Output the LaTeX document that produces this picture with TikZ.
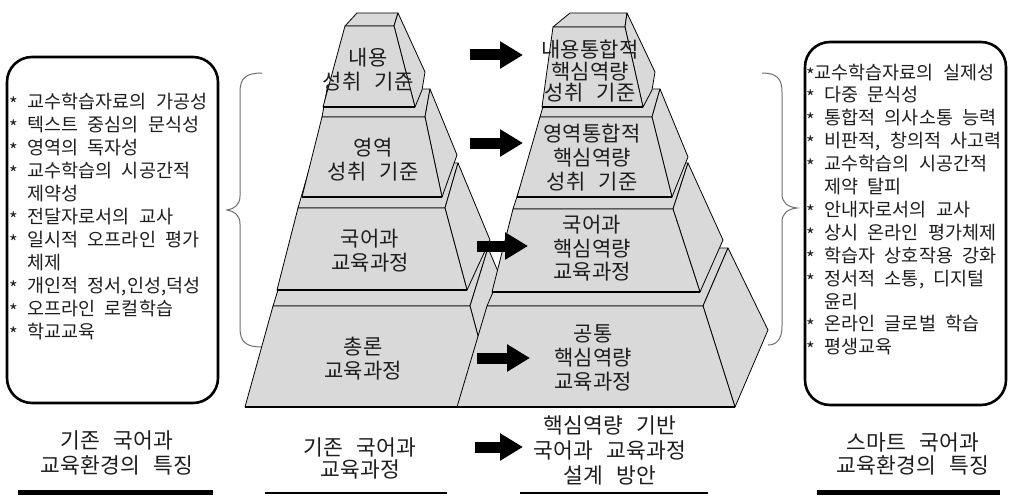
\documentclass[tikz,border=0pt]{standalone}
\usepackage{fontspec}
\newfontfamily\krbox[WordSpace=2.3]{Noto Sans CJK KR}
\newfontfamily\krpyr[LetterSpace=1,WordSpace=1.3]{Noto Sans CJK KR}
\newfontfamily\krcap[LetterSpace=1,WordSpace=2.7]{Noto Sans CJK KR}
\newcommand\mystar{\raisebox{-3pt}{*}}
\usetikzlibrary{arrows.meta}
\definecolor{face}{RGB}{217,217,217}
\definecolor{txt}{RGB}{30,30,30}
\definecolor{brc}{RGB}{110,110,110}
\begin{document}
\begin{tikzpicture}[x=1pt,y=-1pt,
  facestyle/.style={fill=face,draw=black,line width=0.8pt,line join=round},
  bottomedge/.style={draw=black,line width=1.6pt},
  blockarrow/.style={draw=black,line width=11pt,-{Triangle[length=23pt,width=26pt]}},
  boxtext/.style={font=\krbox\fontsize{18.5}{18}\selectfont,text=txt,anchor=base west,inner sep=0pt},
  pyrtext/.style={font=\krpyr\fontsize{21}{24}\selectfont,text=txt,align=center,inner sep=0pt},
  captext/.style={font=\krcap\fontsize{21.5}{25}\selectfont,text=txt,align=center,inner sep=0pt},
  roundbox/.style={draw=black,line width=2.6pt,rounded corners=25pt},
  bracestyle/.style={draw=brc,line width=1pt}]

\useasboundingbox (0,0) rectangle (1011,495);

% ---------- side boxes ----------
\draw[roundbox] (7,57) rectangle (218,403);
\draw[roundbox] (805,42) rectangle (1006,405);

% ---------- braces ----------
\draw[bracestyle] (262,73) .. controls (246,73) and (240,78) .. (240,92) -- (240,196)
  .. controls (240,205) and (234,209) .. (227,210)
  .. controls (234,211) and (240,215) .. (240,224) -- (240,328)
  .. controls (240,342) and (246,347) .. (262,347);
\draw[bracestyle] (762,73) .. controls (776,73) and (782,78) .. (782,92) -- (782,194)
  .. controls (782,203) and (788,207) .. (797,208)
  .. controls (788,209) and (782,213) .. (782,222) -- (782,326)
  .. controls (782,340) and (776,345) .. (768,345);

% ---------- left pyramid ----------
% layer 4
\draw[facestyle] (273,306) -- (470,306) -- (488,248) -- (291,248) -- cycle;
\draw[facestyle] (488,248) -- (525,335) -- (497,407) -- (470,306) -- cycle;
\draw[facestyle] (273,306) -- (470,306) -- (497,407) -- (245,407) -- cycle;
\draw[bottomedge] (245,407) -- (497,407);
% layer 3
\draw[facestyle] (298,208) -- (445,208) -- (458,163) -- (311,163) -- cycle;
\draw[facestyle] (458,163) -- (490,240) -- (467,290) -- (445,208) -- cycle;
\draw[facestyle] (298,208) -- (445,208) -- (467,290) -- (277,290) -- cycle;
\draw[bottomedge] (277,290) -- (467,290);
% layer 2
\draw[facestyle] (322,117) -- (425,117) -- (430,89) -- (327,89) -- cycle;
\draw[facestyle] (430,89) -- (457,155) -- (442,197) -- (425,117) -- cycle;
\draw[facestyle] (322,117) -- (425,117) -- (442,197) -- (302,197) -- cycle;
\draw[bottomedge] (302,197) -- (442,197);
% layer 1
\draw[facestyle] (345,26) -- (394,26) -- (398,13) -- (357,13) -- cycle;
\draw[facestyle] (398,13) -- (425,72) -- (422,90) -- (415,107) -- (394,26) -- cycle;
\draw[facestyle] (345,26) -- (394,26) -- (415,107) -- (323,107) -- cycle;
\draw[bottomedge] (323,107) -- (415,107);

% ---------- right pyramid ----------
% layer 4
\draw[facestyle] (487,306) -- (703,306) -- (728,248) -- (512,248) -- cycle;
\draw[facestyle] (728,248) -- (768,330) -- (735,407) -- (703,306) -- cycle;
\draw[facestyle] (487,306) -- (703,306) -- (735,407) -- (457,407) -- cycle;
\draw[bottomedge] (457,407) -- (735,407);
% layer 3
\draw[facestyle] (513,209) -- (673,209) -- (688,163) -- (528,163) -- cycle;
\draw[facestyle] (688,163) -- (723,240) -- (700,292) -- (673,209) -- cycle;
\draw[facestyle] (513,209) -- (673,209) -- (700,292) -- (492,292) -- cycle;
\draw[bottomedge] (492,292) -- (700,292);
% layer 2
\draw[facestyle] (540,117) -- (652,117) -- (660,89) -- (548,89) -- cycle;
\draw[facestyle] (660,89) -- (688,157) -- (672,197) -- (652,117) -- cycle;
\draw[facestyle] (540,117) -- (652,117) -- (672,197) -- (517,197) -- cycle;
\draw[bottomedge] (517,197) -- (672,197);
% layer 1
\draw[facestyle] (553,27) -- (625,27) -- (627,13) -- (570,13) -- cycle;
\draw[facestyle] (627,13) -- (655,72) -- (652,90) -- (643,107) -- (625,27) -- cycle;
\draw[facestyle] (553,27) -- (625,27) -- (643,107) -- (542,107) -- cycle;
\draw[bottomedge] (542,107) -- (643,107);

% ---------- pyramid texts ----------
\node[pyrtext] (t1) at (368,70) {내용\\성취 기준};
\node[pyrtext] (t2) at (373,159.5) {영역\\성취 기준};
\node[pyrtext] (t3) at (370,250.5) {국어과\\교육과정};
\node[pyrtext] (t4) at (363,359) {총론\\교육과정};
\node[pyrtext,font=\krpyr\fontsize{21}{21.5}\selectfont] (u1) at (590,71.5) {내용통합적\\핵심역량\\성취 기준};
\node[pyrtext] (u2) at (592,157.5) {영역통합적\\핵심역량\\성취 기준};
\node[pyrtext,font=\krpyr\fontsize{21}{23.5}\selectfont] (u3) at (592,248.5) {국어과\\핵심역량\\교육과정};
\node[pyrtext] (u4) at (593,357.5) {공통\\핵심역량\\교육과정};

% ---------- arrows ----------
\coordinate (a1s) at (470,55);  \coordinate (a1e) at (523,55);
\coordinate (a2s) at (470,143); \coordinate (a2e) at (523,143);
\coordinate (a3s) at (477,246); \coordinate (a3e) at (528,246);
\coordinate (a4s) at (477,358); \coordinate (a4e) at (530,358);
\coordinate (a5s) at (475,447); \coordinate (a5e) at (523,447);
\draw[blockarrow] (a1s) -- (a1e);
\draw[blockarrow] (a2s) -- (a2e);
\draw[blockarrow] (a3s) -- (a3e);
\draw[blockarrow] (a4s) -- (a4e);
\draw[blockarrow] (a5s) -- (a5e);

% ---------- left box text ----------
\node[boxtext] (l1)  at (9,108) {\mystar{} 교수학습자료의 가공성};
\node[boxtext] (l2)  at (9,131) {\mystar{} 텍스트 중심의 문식성};
\node[boxtext] (l3)  at (9,154) {\mystar{} 영역의 독자성};
\node[boxtext] (l4)  at (9,177) {\mystar{} 교수학습의 시공간적};
\node[boxtext] (l5)  at (9,200) {\phantom{*} 제약성};
\node[boxtext] (l6)  at (9,223) {\mystar{} 전달자로서의 교사};
\node[boxtext] (l7)  at (9,246) {\mystar{} 일시적 오프라인 평가};
\node[boxtext] (l8)  at (9,269) {\phantom{*} 체제};
\node[boxtext] (l9)  at (9,292) {\mystar{} 개인적 정서,인성,덕성};
\node[boxtext] (l10) at (9,315) {\mystar{} 오프라인 로컬학습};
\node[boxtext] (l11) at (9,338) {\mystar{} 학교교육};

% ---------- right box text ----------
\node[boxtext] (r1)  at (806,79.0)  {\mystar{}교수학습자료의 실제성};
\node[boxtext] (r2)  at (806,101.9) {\mystar{} 다중 문식성};
\node[boxtext] (r3)  at (806,124.8) {\mystar{} 통합적 의사소통 능력};
\node[boxtext] (r4)  at (806,147.7) {\mystar{} 비판적, 창의적 사고력};
\node[boxtext] (r5)  at (806,170.6) {\mystar{} 교수학습의 시공간적};
\node[boxtext] (r6)  at (806,193.5) {\phantom{*} 제약 탈피};
\node[boxtext] (r7)  at (806,216.4) {\mystar{} 안내자로서의 교사};
\node[boxtext] (r8)  at (806,239.3) {\mystar{} 상시 온라인 평가체제};
\node[boxtext] (r9)  at (806,262.2) {\mystar{} 학습자 상호작용 강화};
\node[boxtext] (r10) at (806,285.1) {\mystar{} 정서적 소통, 디지털};
\node[boxtext] (r11) at (806,308.0) {\phantom{*} 윤리};
\node[boxtext] (r12) at (806,330.9) {\mystar{} 온라인 글로벌 학습};
\node[boxtext] (r13) at (806,353.8) {\mystar{} 평생교육};

% ---------- captions ----------
\node[captext] (c1) at (117,452.5) {기존 국어과\\교육환경의 특징};
\node[captext,font=\krcap\fontsize{21.5}{22}\selectfont] (c2) at (360,458.5) {기존 국어과\\교육과정};
\node[captext] (c3) at (610,450) {핵심역량 기반\\국어과 교육과정\\설계 방안};
\node[captext,font=\krcap\fontsize{21.5}{23}\selectfont] (c4) at (913,453.5) {스마트 국어과\\교육환경의 특징};

% ---------- underlines ----------
\fill[black] (18,490) rectangle (213,495);
\draw[black,line width=1.5pt] (265,493) -- (447,493);
\draw[black,line width=1.5pt] (520,493) -- (708,493);
\fill[black] (817,490) rectangle (1000,495);
\end{tikzpicture}
\end{document}
